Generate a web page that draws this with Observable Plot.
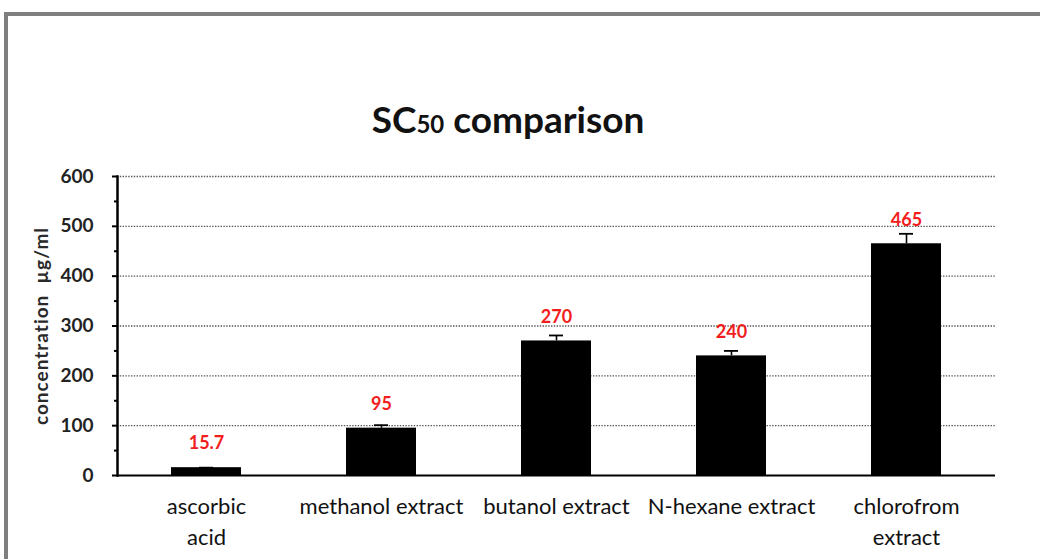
<!DOCTYPE html>
<html>
<head>
<meta charset="utf-8">
<script src="https://cdn.jsdelivr.net/npm/d3@7"></script>
<script src="https://cdn.jsdelivr.net/npm/@observablehq/plot@0.6"></script>
<style>
  html, body { margin: 0; padding: 0; background: #fff; }
  #wrap { position: relative; width: 1040px; height: 559px; overflow: hidden; background: #fff; }
  #border { position: absolute; left: 4px; top: 12px; right: -10px; bottom: -10px;
            border-top: 4px solid #7f7f7f; border-left: 4px solid #7f7f7f; }
  #title { position: absolute; left: 0; top: 101px; width: 1016px; text-align: center;
           font: bold 37px Lato, "Open Sans", sans-serif; line-height: 36px; color: #111; }
  #title .sub { font-size: 24px; }
  #chart { position: absolute; left: 0; top: 0; }
</style>
</head>
<body>
<div id="wrap">
  <div id="border"></div>
  <div id="chart"></div>
  <div id="title">SC<span class="sub">50</span> comparison</div>
</div>
<script>
const categories = ["ascorbic\nacid", "methanol extract", "butanol extract", "N-hexane extract", "chlorofrom\nextract"];
const values = [15.7, 95, 270, 240, 465];
const errors = [0, 6, 11, 10, 20];
const valueLabels = ["15.7", "95", "270", "240", "465"];
const yTicks = [0, 100, 200, 300, 400, 500, 600];
const yMinorTicks = [50, 150, 250, 350, 450, 550];
const gridTicks = [100, 200, 300, 400, 500, 600];
const yLabel = "concentration  µg/ml";

const data = categories.map((c, i) => ({cat: c, v: values[i], e: errors[i], top: values[i] + errors[i], lab: valueLabels[i]}));

const font = "Lato, 'Open Sans', sans-serif";

const chart = Plot.plot({
  width: 1040,
  height: 559,
  marginLeft: 117,
  marginRight: 45,
  marginTop: 176,
  marginBottom: 84,
  style: {fontFamily: font, background: "transparent", overflow: "visible"},
  x: {domain: categories, paddingInner: 0.6, paddingOuter: 0.3, label: null},
  y: {domain: [0, 600], label: null},
  marks: [
    Plot.ruleY(gridTicks, {stroke: "#555", strokeWidth: 1.3, strokeDasharray: "1.4,1.4"}),
    Plot.barY(data, {x: "cat", y: "v", fill: "#000"}),
    Plot.ruleX(data, {x: "cat", y1: "v", y2: "top", stroke: "#000", strokeWidth: 1.6}),
    Plot.tickY(data, {x: "cat", y: "top", stroke: "#000", strokeWidth: 1.8, insetLeft: 28, insetRight: 28}),
    Plot.text(data, {x: "cat", y: "v", text: "lab", dy: -24, fill: "#f21d1d", fontSize: 18, fontWeight: "bold", fontFamily: font}),
    Plot.ruleY([0], {stroke: "#000", strokeWidth: 2}),
    Plot.frame({anchor: "left", stroke: "#000", strokeWidth: 2.5}),
    Plot.axisY({ticks: yTicks, tickSize: 5, tickPadding: 19, strokeWidth: 2, fontSize: 19, fontWeight: "bold", fill: "#222", label: null}),
    Plot.axisY({ticks: yMinorTicks, tickSize: 3, strokeWidth: 2, tickFormat: () => "", label: null}),
    Plot.axisX({tickSize: 0, tickPadding: 16, fontSize: 22, lineHeight: 1.41, fill: "#111", label: null}),
    Plot.text([yLabel], {frameAnchor: "left", textAnchor: "middle", dx: -76, rotate: -90, fontSize: 19, fontWeight: "bold", fill: "#2a2a2a", fontFamily: font})
  ]
});

d3.select(chart).selectAll("text").filter(function() { return this.textContent === yLabel; })
  .attr("letter-spacing", "1px");

document.getElementById("chart").appendChild(chart);
</script>
</body>
</html>
